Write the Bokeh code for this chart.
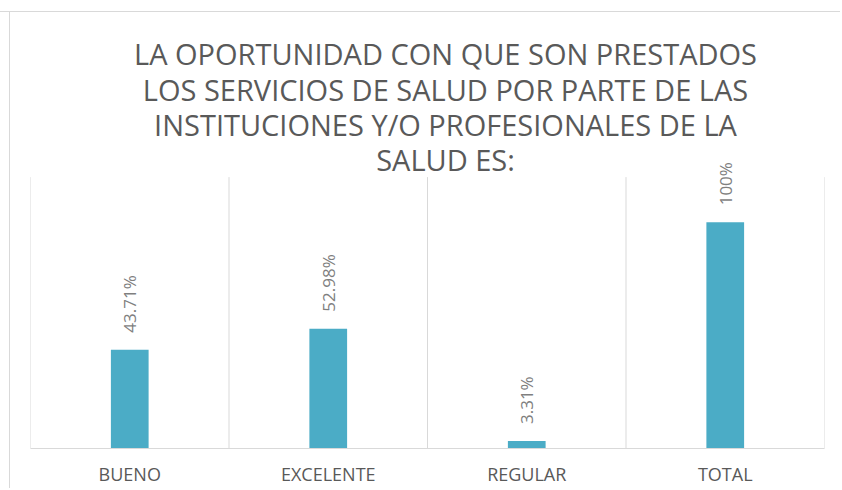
from bokeh.plotting import figure
from bokeh.models import Range1d, ColumnDataSource, LabelSet, Label
from bokeh.core.properties import value
from bokeh.embed import file_html
from bokeh.resources import INLINE
import math

categories = ["BUENO", "EXCELENTE", "REGULAR", "TOTAL"]
values = [0.4371, 0.5298, 0.0331, 1.0]
value_labels = [("%g" % round(v * 100, 2)) + "%" for v in values]
title_lines = ["LA OPORTUNIDAD CON QUE SON PRESTADOS",
               "LOS SERVICIOS DE SALUD POR PARTE DE LAS",
               "INSTITUCIONES Y/O PROFESIONALES DE LA",
               "SALUD ES:"]
axis_max = 1.2          # value axis maximum (hidden axis, 120%)

FONT = "Open Sans"
W, H = 840, 488
PLOT_TOP, PLOT_BOTTOM = 177, 449          # pixel extents of the value axis
frame_h = PLOT_BOTTOM
y_end = axis_max * frame_h / (PLOT_BOTTOM - PLOT_TOP)

src = ColumnDataSource(dict(cat=categories, val=values, lab=value_labels))

p = figure(width=W, height=H, x_range=categories, y_range=Range1d(0, y_end),
           output_backend="svg", toolbar_location=None,
           min_border_left=30, min_border_right=W - 824, min_border_top=0,
           min_border_bottom=H - PLOT_BOTTOM)
p.x_range.range_padding = 0

# category separators (vertical grid lines) from 0 to the axis maximum
n = len(categories)
sep_x = list(range(n + 1))
p.segment(x0=sep_x, y0=[0] * (n + 1), x1=sep_x, y1=[axis_max] * (n + 1),
          line_color="#d9d9d9", line_width=1)

p.vbar(x="cat", top="val", width=0.19, source=src, color="#4BACC6", line_color=None)

p.add_layout(LabelSet(x="cat", y="val", text="lab", source=src, angle=math.pi / 2,
                      text_align="left", text_baseline="middle", y_offset=17,
                      text_font=value(FONT), text_font_size="17px",
                      text_color="#7f7f7f"))

# chart title (4 centred lines)
baselines = [53, 89, 124, 159]
for line, b in zip(title_lines, baselines):
    p.add_layout(Label(x=n / 2, y=y_end, text=line, x_offset=18, y_offset=-b,
                       text_align="center", text_baseline="alphabetic",
                       text_font=FONT, text_font_size="29px",
                       text_color="#595959"))

p.yaxis.visible = False
p.grid.visible = False

p.xaxis.axis_line_color = "#d9d9d9"
p.xaxis.axis_line_width = 1
p.xaxis.major_tick_line_color = None
p.xaxis.minor_tick_line_color = None
p.xaxis.major_tick_out = 0
p.xaxis.major_label_standoff = 13
p.xaxis.major_label_text_font = FONT
p.xaxis.major_label_text_font_size = "18px"
p.xaxis.major_label_text_color = "#595959"

p.outline_line_color = None
p.border_fill_color = None
p.background_fill_color = None
p.styles = {"box-shadow": "inset 0 11px 0 #fff, inset 0 12px 0 #d9d9d9, "
                          "inset 9px 0 0 #fff, inset 10px 0 0 #d9d9d9"}

open("out.html", "w").write(file_html(p, INLINE))
